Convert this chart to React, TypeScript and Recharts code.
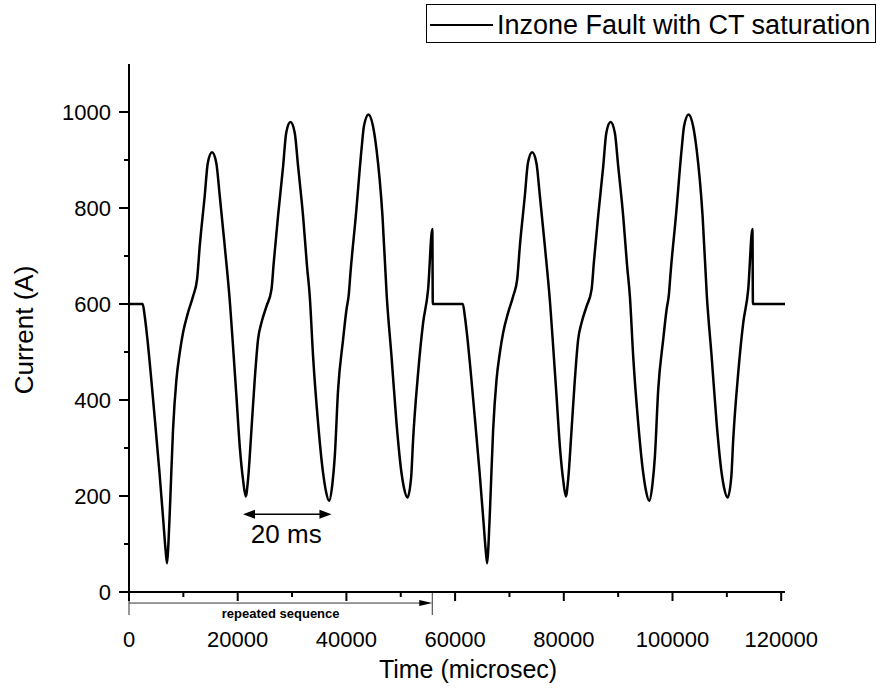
import { LineChart, Line, XAxis, YAxis, ReferenceLine } from 'recharts';

// one recorded sequence (time in µs from start of the sequence, current in A)
const seqTime = [
  0, 2520, 2890, 3260, 4730, 5600, 6300, 6750, 7000, 7250, 7550, 8100, 8720, 9330, 9940, 10860, 11780,
  12520, 13010, 13930, 14500, 15280, 16060, 16700, 17620, 18590, 19140, 19770, 20380, 20980, 21480,
  21900, 22530, 23130, 23740, 24370, 25290, 26210, 26630, 27420, 28340, 28930, 29710, 30490, 31110,
  32030, 32760, 33260, 33870, 34790, 35710, 36200, 36810, 37420, 37860, 38470, 39390, 40010, 40440,
  40750, 41730, 42780, 43230, 44060, 44890, 45540, 46640, 47430, 48300, 49220, 50140, 50560, 51240,
  51920, 52270, 53190, 54110, 55030, 55810, 55900,
];
const seqCurrent = [
  600, 600, 575, 540, 363, 250, 150, 85, 60, 100, 180, 338, 442, 498, 540, 582, 616,
  651, 720, 825, 894, 916, 894, 825, 720, 600, 512, 407, 303, 234, 199,
  234, 338, 442, 526, 561, 595, 630, 686, 783, 885, 957, 979, 957, 887,
  783, 678, 616, 491, 352, 248, 212, 190, 225, 282, 421, 526, 588, 620,
  665, 783, 922, 971, 995, 971, 922, 783, 615, 491, 352, 248, 219, 197,
  240, 317, 456, 560, 630, 756, 600,
];
const repeatOffset = 58900; // second copy of the sequence starts here
const endTime = 120700;
const endCurrent = 600;

const xTicks = [0, 10000, 20000, 30000, 40000, 50000, 60000, 70000, 80000, 90000, 100000, 110000, 120000];
const yTicks = [0, 100, 200, 300, 400, 500, 600, 700, 800, 900, 1000];

const data = [
  ...seqTime.map((t, i) => ({ t, v: seqCurrent[i] })),
  ...seqTime.map((t, i) => ({ t: t + repeatOffset, v: seqCurrent[i] })),
  { t: endTime, v: endCurrent },
];

const FONT = '"Liberation Sans", Arial, sans-serif';

const XTick = (props: any) => {
  const { x, y, payload } = props;
  const major = payload.value % 20000 === 0;
  return (
    <g>
      <line x1={x} y1={y} x2={x} y2={y + (major ? 9 : 5)} stroke="#000" strokeWidth={2} />
      {major && (
        <text x={x} y={y + 55} textAnchor="middle" fontSize={22} fontFamily={FONT} fill="#000">
          {payload.value}
        </text>
      )}
    </g>
  );
};

const YTick = (props: any) => {
  const { x, y, payload } = props;
  const major = payload.value % 200 === 0;
  return (
    <g>
      <line x1={x} y1={y} x2={x - (major ? 10 : 5)} y2={y} stroke="#000" strokeWidth={2} />
      {major && (
        <text x={x - 18} y={y + 8} textAnchor="end" fontSize={22} fontFamily={FONT} fill="#000">
          {payload.value}
        </text>
      )}
    </g>
  );
};

// double headed arrow with "20 ms" under it
const PeriodArrow = (props: any) => {
  const { x1, y1, x2 } = props;
  const h = 12;
  const w = 4.5;
  return (
    <g>
      <line x1={x1 + 4} y1={y1} x2={x2 - 4} y2={y1} stroke="#000" strokeWidth={1.5} />
      <polygon points={`${x1},${y1} ${x1 + h},${y1 - w} ${x1 + h},${y1 + w}`} fill="#000" />
      <polygon points={`${x2},${y1} ${x2 - h},${y1 - w} ${x2 - h},${y1 + w}`} fill="#000" />
      <text x={(x1 + x2) / 2 - 1} y={y1 + 29} textAnchor="middle" fontSize={26} fontFamily={FONT} fill="#000">
        20 ms
      </text>
    </g>
  );
};

// bracket under the axis marking the repeated part
const RepeatBracket = (props: any) => {
  const { x1, y1, x2 } = props;
  return (
    <g>
      <line x1={x1} y1={y1} x2={x2 - 6} y2={y1} stroke="#333" strokeWidth={1} />
      <polygon points={`${x2},${y1} ${x2 - 13},${y1 - 3} ${x2 - 13},${y1 + 3}`} fill="#000" />
      <line x1={x1} y1={y1 - 11} x2={x1} y2={y1 + 12} stroke="#333" strokeWidth={1} />
      <line x1={x2} y1={y1 - 11} x2={x2} y2={y1 + 12} stroke="#333" strokeWidth={1} />
      <text x={(x1 + x2) / 2} y={y1 + 15} textAnchor="middle" fontSize={13} fontWeight="bold" fontFamily={FONT} fill="#000">
        repeated sequence
      </text>
    </g>
  );
};

export default function App() {
  return (
    <div style={{ position: 'absolute', left: 0, top: 0, width: 877, height: 700, background: '#fff' }}>
      <LineChart
        width={877}
        height={700}
        data={data}
        margin={{ top: 64, right: 92, bottom: 0, left: 0 }}
        style={{ fontFamily: FONT }}
      >
        <XAxis
          type="number"
          dataKey="t"
          domain={[0, endTime]}
          ticks={xTicks}
          interval={0}
          height={108}
          tickSize={0}
          tickMargin={0}
          tickLine={false}
          axisLine={{ stroke: '#000', strokeWidth: 2 }}
          tick={<XTick />}
          label={(p: any) => {
            const vb = p.viewBox;
            return (
              <text x={vb.x + vb.width / 2 + 11} y={vb.y + 86} textAnchor="middle" fontSize={25} fontFamily={FONT} fill="#000">
                Time (microsec)
              </text>
            );
          }}
        />
        <YAxis
          type="number"
          domain={[0, 1100]}
          ticks={yTicks}
          interval={0}
          width={129}
          tickSize={0}
          tickMargin={0}
          tickLine={false}
          axisLine={{ stroke: '#000', strokeWidth: 2 }}
          tick={<YTick />}
          label={(p: any) => {
            const vb = p.viewBox;
            const cx = 24;
            const cy = vb.y + vb.height / 2 + 2;
            return (
              <text x={cx} y={cy} transform={`rotate(-90, ${cx}, ${cy})`} textAnchor="middle" dominantBaseline="central" fontSize={26} fontFamily={FONT} fill="#000">
                Current (A)
              </text>
            );
          }}
        />
        <Line
          type="monotone"
          dataKey="v"
          stroke="#000"
          strokeWidth={2.5}
          dot={false}
          activeDot={false}
          isAnimationActive={false}
        />
        <ReferenceLine
          segment={[{ x: 20980, y: 162 }, { x: 37250, y: 162 }]}
          ifOverflow="visible"
          shape={PeriodArrow}
        />
        <ReferenceLine
          segment={[{ x: 0, y: -23 }, { x: 55800, y: -23 }]}
          ifOverflow="visible"
          shape={RepeatBracket}
        />
      </LineChart>
      <svg width={877} height={50} style={{ position: 'absolute', left: 0, top: 0 }}>
        <rect x={426.5} y={4.5} width={449} height={38} fill="#fff" stroke="#000" strokeWidth={1} />
        <line x1={430} y1={25} x2={493} y2={25} stroke="#000" strokeWidth={2} />
        <text x={497} y={34} fontSize={27} fontFamily={FONT} fill="#000">
          Inzone Fault with CT saturation
        </text>
      </svg>
    </div>
  );
}
